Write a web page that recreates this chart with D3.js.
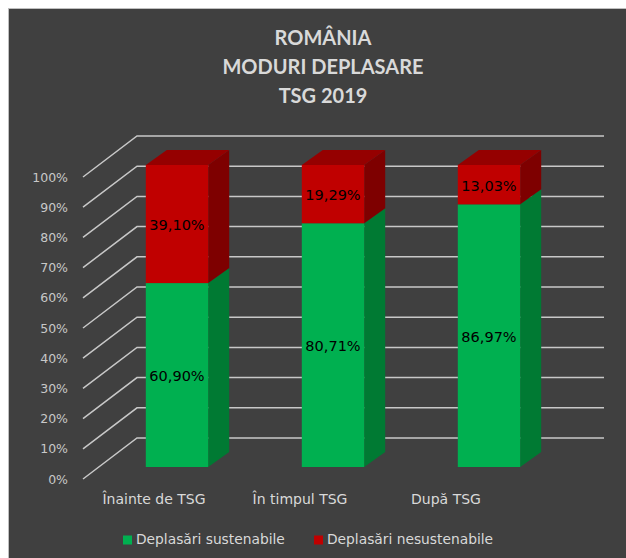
<!DOCTYPE html>
<html>
<head>
<meta charset="utf-8">
<script src="https://cdn.jsdelivr.net/npm/d3@7"></script>
<style>
  body { margin: 0; background: #ffffff; }
  text { font-family: "DejaVu Sans", Verdana, sans-serif; }
</style>
</head>
<body>
<div id="chart"></div>
<script>
// date
const categories = ["Înainte de TSG", "În timpul TSG", "După TSG"];
const sustenabile = [0.6090, 0.8071, 0.8697];
const nesustenabile = [0.3910, 0.1929, 0.1303];
const seriesNames = ["Deplasări sustenabile", "Deplasări nesustenabile"];
const yTicks = [0, 0.1, 0.2, 0.3, 0.4, 0.5, 0.6, 0.7, 0.8, 0.9, 1];
const titleLines = ["ROMÂNIA", "MODURI DEPLASARE", "TSG 2019"];

const width = 626;
const height = 558;

const colors = {
    green: { front: "#00b050", side: "#007a33", top: "#009a40" },
    red: { front: "#c00000", side: "#7e0000", top: "#950000" }
};

// adancime perete si bare (proiectie oblica)
const wallDepth = { dx: 54, dy: -41 };
const barDepth = { dx: 21, dy: -15 };

const svg = d3.select("#chart")
    .append("svg")
    .attr("width", width)
    .attr("height", height);

// fundal
svg.append("rect")
    .attr("x", 8.5)
    .attr("y", 8.5)
    .attr("width", 620)
    .attr("height", 560)
    .attr("fill", "#404040")
    .attr("stroke", "#bfbfbf");

// titlu
svg.append("g")
    .selectAll("text")
    .data(titleLines)
    .join("text")
    .attr("x", 323)
    .attr("y", (d, i) => 45 + i * 29)
    .attr("text-anchor", "middle")
    .style("font-family", "Lato, sans-serif")
    .style("font-weight", "bold")
    .style("font-size", "20px")
    .attr("fill", "#d9d9d9")
    .text(d => d);

// scale
const yWall = d3.scaleLinear().domain([0, 1]).range([479, 177]);
const yBar = d3.scaleLinear().domain([0, 1]).range([467, 165]);

const xBar = d3.scaleBand()
    .domain(categories)
    .range([99, 567])
    .paddingInner(0.6)
    .paddingOuter(0.3);

const xLabel = d3.scaleBand()
    .domain(categories)
    .range([81, 519]);

// grila: diagonala pe peretele lateral + orizontala pe peretele din spate
const grid = svg.append("g");
const wallFrontX = 83;
const backRight = 604;

grid.selectAll("path")
    .data(yTicks)
    .join("path")
    .attr("d", d => {
        const y0 = yWall(d);
        return `M${wallFrontX},${y0} L${wallFrontX + wallDepth.dx},${y0 + wallDepth.dy} L${backRight},${y0 + wallDepth.dy}`;
    })
    .attr("fill", "none")
    .attr("stroke", "#c8c8c8")
    .attr("stroke-width", 1.5);

// axa Y
const yAxis = svg.append("g")
    .attr("transform", "translate(68,0)")
    .call(d3.axisLeft(yWall).tickValues(yTicks).tickFormat(d3.format(".0%")).tickSize(0).tickPadding(0));

yAxis.select(".domain").remove();
yAxis.selectAll("text")
    .attr("fill", "#c8c8c8")
    .style("font-size", "12.5px");

// bare 3D
const stacks = categories.map((c, i) => ({
    cat: c,
    segs: [
        { y0: 0, y1: sustenabile[i], c: colors.green, v: sustenabile[i] },
        { y0: sustenabile[i], y1: 1, c: colors.red, v: nesustenabile[i] }
    ]
}));

const bars = svg.append("g")
    .selectAll("g")
    .data(stacks)
    .join("g");

bars.each(function (d) {
    const g = d3.select(this);
    const x0 = xBar(d.cat);
    const x1 = x0 + xBar.bandwidth();
    d.segs.forEach((s, k) => {
        const yb = yBar(s.y0);
        const yt = yBar(s.y1);
        // fata laterala
        g.append("path")
            .attr("d", `M${x1},${yb} L${x1 + barDepth.dx},${yb + barDepth.dy} L${x1 + barDepth.dx},${yt + barDepth.dy} L${x1},${yt} Z`)
            .attr("fill", s.c.side);
        // fata
        g.append("rect")
            .attr("x", x0)
            .attr("y", yt)
            .attr("width", x1 - x0)
            .attr("height", yb - yt)
            .attr("fill", s.c.front);
        // capac
        if (k === d.segs.length - 1) {
            g.append("path")
                .attr("d", `M${x0},${yt} L${x0 + barDepth.dx},${yt + barDepth.dy} L${x1 + barDepth.dx},${yt + barDepth.dy} L${x1},${yt} Z`)
                .attr("fill", s.c.top);
        }
        // eticheta
        g.append("text")
            .attr("x", (x0 + x1) / 2)
            .attr("y", (yb + yt) / 2 + 2)
            .attr("text-anchor", "middle")
            .attr("dominant-baseline", "middle")
            .style("font-size", "14.5px")
            .attr("fill", "#000")
            .text(d3.format(".2f")(s.v * 100).replace(".", ",") + "%");
    });
});

// etichete categorii
svg.append("g")
    .selectAll("text")
    .data(categories)
    .join("text")
    .attr("x", d => xLabel(d) + xLabel.bandwidth() / 2)
    .attr("y", 500)
    .attr("text-anchor", "middle")
    .attr("dominant-baseline", "middle")
    .style("font-size", "14px")
    .attr("fill", "#d9d9d9")
    .text(d => d);

// legenda
const legend = svg.append("g")
    .selectAll("g")
    .data(seriesNames)
    .join("g")
    .attr("transform", (d, i) => `translate(${i === 0 ? 123 : 314},540)`);

legend.append("rect")
    .attr("x", 0)
    .attr("y", -4.5)
    .attr("width", 9)
    .attr("height", 9)
    .attr("fill", (d, i) => i === 0 ? colors.green.front : colors.red.front);

legend.append("text")
    .attr("x", 13)
    .attr("y", 0)
    .attr("dominant-baseline", "middle")
    .style("font-size", "13.8px")
    .attr("fill", "#d9d9d9")
    .text(d => d);
</script>
</body>
</html>
